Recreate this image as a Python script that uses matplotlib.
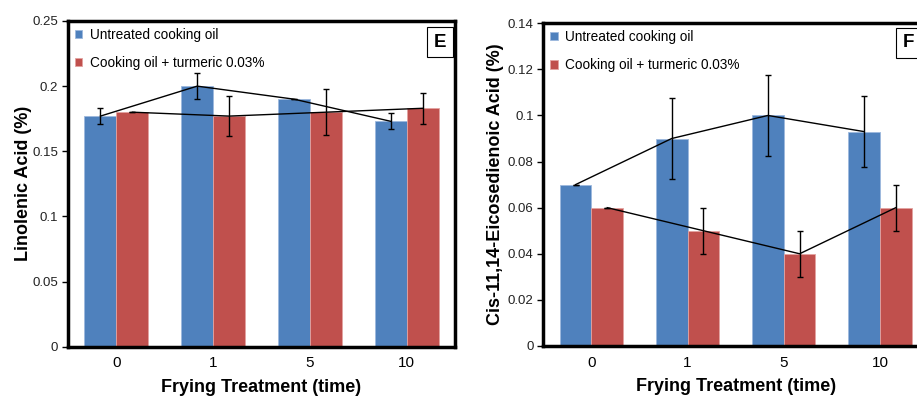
import matplotlib.pyplot as plt
import numpy as np

# frying treatment (time)
times = ['0', '1', '5', '10']
series = ['Untreated cooking oil', 'Cooking oil + turmeric 0.03%']

# E: linolenic acid (%)
lin_untreated = [0.177, 0.200, 0.190, 0.173]
lin_untreated_err = [0.006, 0.010, 0.0, 0.006]
lin_turmeric = [0.180, 0.177, 0.180, 0.183]
lin_turmeric_err = [0.0, 0.0155, 0.0175, 0.0117]

# F: cis-11,14-eicosedienoic acid (%)
eic_untreated = [0.070, 0.090, 0.100, 0.093]
eic_untreated_err = [0.0, 0.0174, 0.0174, 0.0153]
eic_turmeric = [0.060, 0.050, 0.040, 0.060]
eic_turmeric_err = [0.0, 0.010, 0.010, 0.010]

blue = '#4F81BD'
red = '#C0504D'
w = 0.33

fig = plt.figure(figsize=(9.17, 3.96), dpi=100)
plt.rcParams['font.family'] = ['Liberation Sans', 'DejaVu Sans']


def panel(ax, a, a_err, b, b_err, ylim, yticks, ylabel, letter, letter_pos, ylabelpad):
    x = np.arange(len(times))
    ax.bar(x - w / 2, a, w, color=blue, edgecolor='#9DB9DD', linewidth=0.6, label=series[0], zorder=2)
    ax.bar(x + w / 2, b, w, color=red, edgecolor='#E3A3A1', linewidth=0.6, label=series[1], zorder=2)
    ax.errorbar(x - w / 2, a, yerr=a_err, color='black', linewidth=1, elinewidth=1,
                capsize=2.5, capthick=1, zorder=3)
    ax.errorbar(x + w / 2, b, yerr=b_err, color='black', linewidth=1, elinewidth=1,
                capsize=2.5, capthick=1, zorder=3)

    ax.set_xlim(-0.5, len(times) - 0.5)
    ax.set_ylim(*ylim)
    ax.set_yticks(yticks)
    ax.set_yticklabels(['%g' % t for t in yticks], fontsize=9.5, color='#222222')
    ax.set_xticks(x)
    ax.set_xticklabels(times, fontsize=11)
    ax.tick_params(axis='x', length=0, pad=7)
    ax.tick_params(axis='y', length=4, width=1, direction='out', pad=3)
    for sp in ax.spines.values():
        sp.set_linewidth(2.5)
    ax.set_xlabel('Frying Treatment (time)', fontsize=13, fontweight='bold', labelpad=6)
    ax.set_ylabel(ylabel, fontsize=13, fontweight='bold', labelpad=ylabelpad)

    ax.legend(loc='upper left', frameon=False, fontsize=9.8, handlelength=0.55,
              handleheight=0.55, handletextpad=0.55, labelspacing=1.05,
              borderaxespad=0.1)
    ax.text(letter_pos[0], letter_pos[1], letter, transform=ax.transAxes, fontsize=13.5,
            fontweight='bold', ha='center', va='center',
            bbox=dict(boxstyle='square,pad=0.35', facecolor='white', edgecolor='black', linewidth=0.8))


ax1 = fig.add_axes([0.0742, 0.1245, 0.422, 0.8225])
panel(ax1, lin_untreated, lin_untreated_err, lin_turmeric, lin_turmeric_err,
      (0, 0.25), [0, 0.05, 0.1, 0.15, 0.2, 0.25], 'Linolenic Acid (%)', 'E', (0.961, 0.935), 0)

ax2 = fig.add_axes([0.5925, 0.1263, 0.4195, 0.815])
panel(ax2, eic_untreated, eic_untreated_err, eic_turmeric, eic_turmeric_err,
      (0, 0.14), [0, 0.02, 0.04, 0.06, 0.08, 0.1, 0.12, 0.14],
      'Cis-11,14-Eicosedienoic Acid (%)', 'F', (0.948, 0.94), 3)

fig.savefig('out.png', dpi=100)
